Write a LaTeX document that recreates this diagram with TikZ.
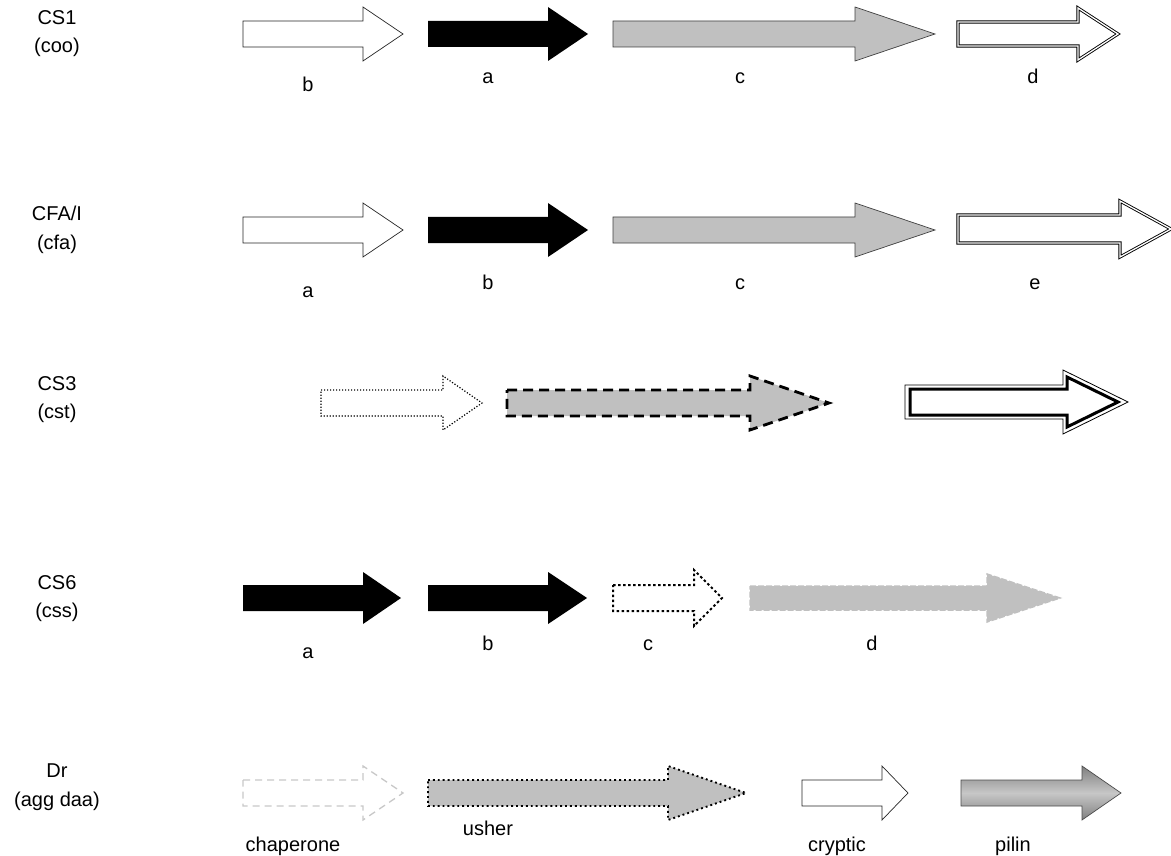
\documentclass[tikz,border=0pt]{standalone}
\usepackage{fontspec}
\setmainfont{Liberation Sans}
\definecolor{silver}{RGB}{192,192,192}
\definecolor{pale}{RGB}{200,200,200}
% block arrow: (tail x, mid y)(head x : tip x : shaft half : head half)
\def\genearrow[#1](#2,#3)(#4:#5:#6:#7){\path[#1] (#2,#3-#6) -- (#4,#3-#6) -- (#4,#3-#7) -- (#5,#3) -- (#4,#3+#7) -- (#4,#3+#6) -- (#2,#3+#6) -- cycle;}
\tikzset{
  lbl/.style={font=\fontsize{20}{22}\selectfont, anchor=base, inner sep=0pt},
  hollow/.style={draw=black!85, line width=0.7pt, fill=white},
  solid/.style={fill=black},
  greyed/.style={draw=black!75, line width=0.7pt, fill=silver},
  twin/.style={draw=black, line width=0.9pt, double=white, double distance=1.3pt},
}
\begin{document}
\begin{tikzpicture}[x=1pt,y=-1pt, line join=miter]
	\useasboundingbox (0,0) rectangle (1171,856);
	%%%%% CS1 %%%%%
	\node[lbl] (cs1) at (57,25) {CS1};
	\node[lbl] (coo) at (57,53) {(coo)};
	\genearrow[hollow](243,34)(363:403:13:27);
	\genearrow[solid](428,34)(548:588:13:27);
	\genearrow[greyed](613,34)(855:935:13:27);
	\genearrow[twin](958,34)(1078:1118:12:26);
	\node[lbl] (cooB) at (308,92) {b};
	\node[lbl] (cooA) at (488,84) {a};
	\node[lbl] (cooC) at (740,84) {c};
	\node[lbl] (cooD) at (1033,84) {d};
	%%%%% CFA/I %%%%%
	\node[lbl] (cfa1) at (57,221) {CFA/I};
	\node[lbl] (cfa) at (57,249) {(cfa)};
	\genearrow[hollow](243,230)(363:403:13:27);
	\genearrow[solid](428,230)(548:588:13:27);
	\genearrow[greyed](613,230)(855:935:13:27);
	\genearrow[twin](958,229)(1120:1171:14:28);
	\node[lbl] (cfaA) at (308,297) {a};
	\node[lbl] (cfaB) at (488,289) {b};
	\node[lbl] (cfaC) at (740,289) {c};
	\node[lbl] (cfaE) at (1035,289) {e};
	%%%%% CS3 %%%%%
	\node[lbl] (cs3) at (57,390) {CS3};
	\node[lbl] (cst) at (57,418) {(cst)};
	\genearrow[fill=white, draw=black, line width=1.2pt, dash pattern=on 1.2pt off 1.8pt](321,403)(443:482:13:27);
	\genearrow[fill=silver, draw=black, line width=2.8pt, dash pattern=on 10pt off 6pt](507,403)(750:829:13:27);
	\genearrow[draw=black, line width=0.8pt, fill=white](905,402)(1063:1128:17:32);
	\genearrow[draw=black, line width=3pt](910,402)(1067:1118:13:25);
	%%%%% CS6 %%%%%
	\node[lbl] (cs6) at (57,589) {CS6};
	\node[lbl] (css) at (57,617) {(css)};
	\genearrow[solid](243,598)(363:401:13:26);
	\genearrow[solid](428,598)(548:587:13:26);
	\genearrow[fill=white, draw=black, line width=2pt, dash pattern=on 2.5pt off 2.5pt](613,598)(694:722:13:28);
	\genearrow[fill=silver, draw=silver, line width=1.5pt, dash pattern=on 6pt off 2pt](750,598)(987:1060:12:24);
	\node[lbl] (cssA) at (308,658) {a};
	\node[lbl] (cssB) at (488,650) {b};
	\node[lbl] (cssC) at (648,650) {c};
	\node[lbl] (cssD) at (872,650) {d};
	%%%%% Dr %%%%%
	\node[lbl] (dr) at (57,777) {Dr};
	\node[lbl] (aggdaa) at (57,806) {(agg daa)};
	\genearrow[draw=pale, line width=1.3pt, dash pattern=on 7pt off 5pt](243,793)(363:403:13:27);
	\genearrow[fill=silver, draw=black, line width=1.9pt, dash pattern=on 1.9pt off 3pt](428,793)(668:746:13:27);
	\genearrow[hollow](802,793)(882:908:13:27);
	\genearrow[draw=black!70, line width=0.7pt, top color=black!50, bottom color=black!50, middle color=black!22](961,793)(1082:1121:13:27);
	\node[lbl] (chaperone) at (293,851) {chaperone};
	\node[lbl] (usher) at (488,835) {usher};
	\node[lbl] (cryptic) at (837,851) {cryptic};
	\node[lbl] (pilin) at (1013,851) {pilin};
\end{tikzpicture}
\end{document}
